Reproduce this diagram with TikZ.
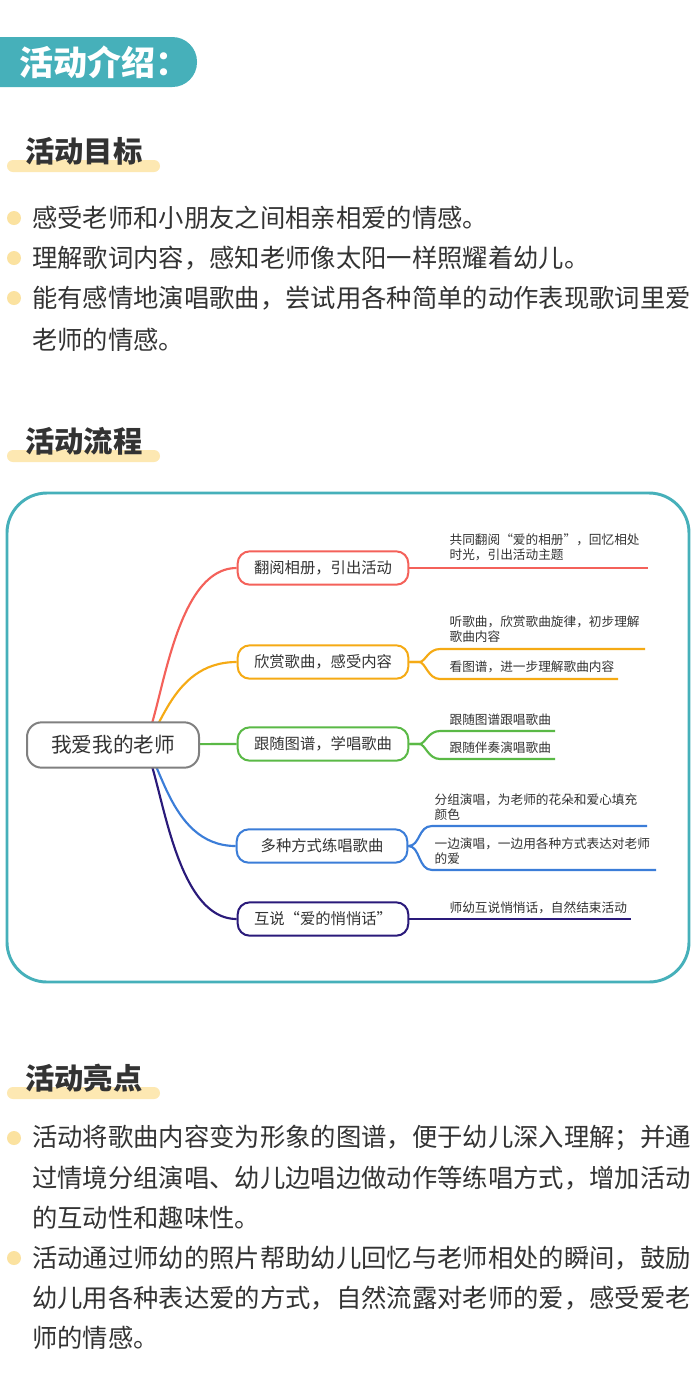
\documentclass[tikz,border=0pt]{standalone}
\usepackage{fontspec}
\setmainfont{Noto Sans CJK SC}
\usetikzlibrary{backgrounds}
\definecolor{teal}{RGB}{70,176,186}
\definecolor{barye}{RGB}{253,232,178}
\definecolor{dotye}{RGB}{251,226,160}
\definecolor{txt}{RGB}{51,51,51}
\definecolor{cred}{RGB}{244,97,90}
\definecolor{corange}{RGB}{245,170,20}
\definecolor{cgreen}{RGB}{90,185,70}
\definecolor{cblue}{RGB}{59,125,216}
\definecolor{cnavy}{RGB}{42,26,122}
\begin{document}
\begin{tikzpicture}[x=0.75pt,y=-0.75pt,
    body/.style={anchor=west,inner sep=0pt,text=txt,font=\fontsize{19pt}{30pt}\selectfont},
    title/.style={anchor=west,inner sep=0pt,text=txt,font=\fontsize{22pt}{26pt}\selectfont\bfseries},
    dot/.style={circle,fill=dotye,minimum size=10.5pt,inner sep=0pt},
    bar/.style={fill=barye,rounded corners=4.5pt},
    branch/.style={draw=#1,line width=1.5pt,rounded corners=9pt,fill=white,text=txt,
        minimum width=128pt,minimum height=25pt,font=\fontsize{11.5pt}{14pt}\selectfont},
    leaf/.style={anchor=south west,inner sep=1pt,text=txt,align=left,
        font=\fontsize{9.5pt}{11pt}\selectfont},
    link/.style={draw=#1,line width=1.6pt}
  ]
\useasboundingbox (0,0) rectangle (700,1390);
\begin{scope}[on background layer]
\fill[white] (0,0) rectangle (700,1390);
\end{scope}
% header
\begin{scope}
\clip (0,0) rectangle (700,1390);
\fill[teal,rounded corners=18.5pt] (-40,37) rectangle (197,87);
\end{scope}
\node[anchor=west,text=white,font=\fontsize{25.5pt}{28pt}\selectfont\bfseries] (head) at (15,62) {活动介绍：};
% goals
\fill[bar] (7,160) rectangle (160,172);
\node[title] (t1) at (25,151) {活动目标};
\foreach \y/\s in {218/感受老师和小朋友之间相亲相爱的情感。,
                   258/理解歌词内容，感知老师像太阳一样照耀着幼儿。,
                   298/能有感情地演唱歌曲，尝试用各种简单的动作表现歌词里爱,
                   340/老师的情感。}
  \node[body] at (32,\y) {\s};
\foreach \y in {218,258,298} \node[dot] at (14,\y) {};
% flow
\fill[bar] (7,450) rectangle (160,462);
\node[title] (t2) at (25,441) {活动流程};
\draw[teal,line width=2.2pt,rounded corners=30pt] (7,493) rectangle (689,982);
\node[draw=gray,line width=1.5pt,rounded corners=11pt,fill=white,text=txt,
      minimum width=129pt,minimum height=34pt,font=\fontsize{15.5pt}{18pt}\selectfont]
      (root) at (113,745) {我爱我的老师};
\coordinate (hub) at (140,745);
\node[branch=cred]    (n1) at (323,568) {翻阅相册，引出活动};
\node[branch=corange] (n2) at (323,662) {欣赏歌曲，感受内容};
\node[branch=cgreen]  (n3) at (323,744) {跟随图谱，学唱歌曲};
\node[branch=cblue]   (n4) at (322,846) {多种方式练唱歌曲};
\node[branch=cnavy]   (n5) at (323,919) {互说“爱的悄悄话”};
\begin{scope}[on background layer]
\foreach \n/\c in {n1/cred,n2/corange,n3/cgreen,n4/cblue,n5/cnavy}
  \draw[link=\c] (hub) .. controls +(20,0) and +(-70,0) .. (\n.west);
\end{scope}
% leaves
\coordinate (e1) at (648,568);
\draw[link=cred] (n1.east) -- (e1);
\node[leaf] (l1) at (448,562) {共同翻阅“爱的相册”，回忆相处\\时光，引出活动主题};

\coordinate (s2a) at (440,649); \coordinate (e2a) at (645,649);
\coordinate (s2b) at (440,679); \coordinate (e2b) at (618,679);
\draw[link=corange] (n2.east) -- +(10,0) .. controls +(6,0) and +(-12,0) .. (s2a) -- (e2a);
\draw[link=corange] (n2.east) -- +(10,0) .. controls +(6,0) and +(-12,0) .. (s2b) -- (e2b);
\node[leaf] (l2a) at (448,644) {听歌曲，欣赏歌曲旋律，初步理解\\歌曲内容};
\node[leaf] (l2b) at (448,674) {看图谱，进一步理解歌曲内容};

\coordinate (s3a) at (440,731); \coordinate (e3a) at (555,731);
\coordinate (s3b) at (440,759); \coordinate (e3b) at (555,759);
\draw[link=cgreen] (n3.east) -- +(10,0) .. controls +(6,0) and +(-12,0) .. (s3a) -- (e3a);
\draw[link=cgreen] (n3.east) -- +(10,0) .. controls +(6,0) and +(-12,0) .. (s3b) -- (e3b);
\node[leaf] (l3a) at (448,727) {跟随图谱跟唱歌曲};
\node[leaf] (l3b) at (448,755) {跟随伴奏演唱歌曲};

\coordinate (s4a) at (432,826); \coordinate (e4a) at (647,826);
\coordinate (s4b) at (432,870); \coordinate (e4b) at (656,870);
\draw[link=cblue] (n4.east) .. controls +(12,0) and +(-14,0) .. (s4a) -- (e4a);
\draw[link=cblue] (n4.east) .. controls +(12,0) and +(-14,0) .. (s4b) -- (e4b);
\node[leaf] (l4a) at (433,822) {分组演唱，为老师的花朵和爱心填充\\颜色};
\node[leaf] (l4b) at (433,866) {一边演唱，一边用各种方式表达对老师\\的爱};

\coordinate (e5) at (631,919);
\draw[link=cnavy] (n5.east) -- (e5);
\node[leaf] (l5) at (448,915) {师幼互说悄悄话，自然结束活动};
% highlights
\fill[bar] (7,1087) rectangle (160,1099);
\node[title] (t3) at (25,1078) {活动亮点};
\foreach \y/\s in {1138/活动将歌曲内容变为形象的图谱，便于幼儿深入理解；并通,
                   1178/过情境分组演唱、幼儿边唱边做动作等练唱方式，增加活动,
                   1218/的互动性和趣味性。,
                   1258/活动通过师幼的照片帮助幼儿回忆与老师相处的瞬间，鼓励,
                   1298/幼儿用各种表达爱的方式，自然流露对老师的爱，感受爱老,
                   1338/师的情感。}
  \node[body] at (32,\y) {\s};
\foreach \y in {1138,1258} \node[dot] at (14,\y) {};
\end{tikzpicture}
\end{document}
